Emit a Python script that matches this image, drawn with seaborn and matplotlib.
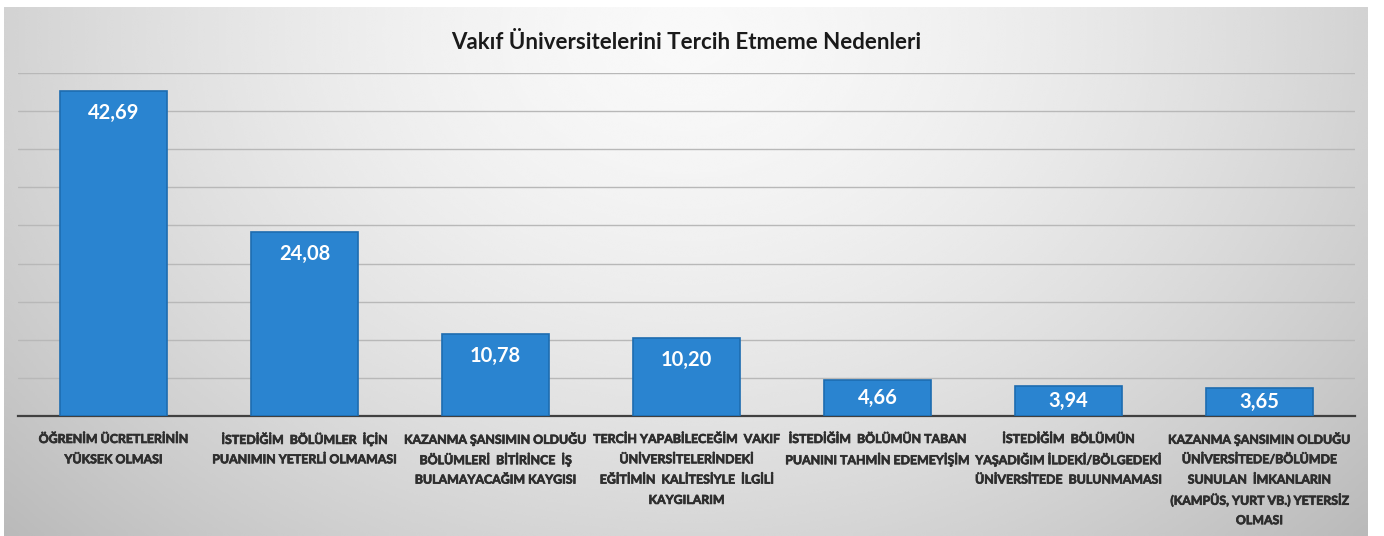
import numpy as np
import pandas as pd
import matplotlib
import matplotlib.pyplot as plt
import matplotlib.patheffects as pe
import seaborn as sns

matplotlib.use('Agg')

title = "Vakıf Üniversitelerini Tercih Etmeme Nedenleri"
categories = [
    "ÖĞRENİM ÜCRETLERİNİN\nYÜKSEK OLMASI",
    "İSTEDİĞİM  BÖLÜMLER  İÇİN\nPUANIMIN YETERLİ OLMAMASI",
    "KAZANMA ŞANSIMIN OLDUĞU\nBÖLÜMLERİ  BİTİRİNCE  İŞ\nBULAMAYACAĞIM KAYGISI",
    "TERCİH YAPABİLECEĞİM  VAKIF\nÜNİVERSİTELERİNDEKİ\nEĞİTİMİN  KALİTESİYLE  İLGİLİ\nKAYGILARIM",
    "İSTEDİĞİM  BÖLÜMÜN TABAN\nPUANINI TAHMİN EDEMEYİŞİM",
    "İSTEDİĞİM  BÖLÜMÜN\nYAŞADIĞIM İLDEKİ/BÖLGEDEKİ\nÜNİVERSİTEDE  BULUNMAMASI",
    "KAZANMA ŞANSIMIN OLDUĞU\nÜNİVERSİTEDE/BÖLÜMDE\nSUNULAN  İMKANLARIN\n(KAMPÜS, YURT VB.) YETERSİZ\nOLMASI",
]
values = [42.69, 24.08, 10.78, 10.20, 4.66, 3.94, 3.65]
value_labels = ["42,69", "24,08", "10,78", "10,20", "4,66", "3,94", "3,65"]

sns.set_style("white")
plt.rcParams['font.family'] = ['Lato', 'DejaVu Sans']

df = pd.DataFrame({"neden": categories, "oran": values})

W, H = 1384, 536
fig = plt.figure(figsize=(W / 100, H / 100), dpi=100)
fig.patch.set_facecolor("white")

# gradient background panel
bg = fig.add_axes([4 / W, 0, (1368 - 4) / W, (H - 7) / H])
yy, xx = np.mgrid[0:1:300j, 0:1:600j]
dist = np.sqrt(((xx - 0.5) / 0.62) ** 2 + ((yy - 0.05) / 1.25) ** 2)
shade = 0.975 - 0.21 * np.clip(dist, 0, 1.2) ** 1.6
bg.imshow(shade, cmap="gray", vmin=0, vmax=1, aspect="auto",
          extent=[0, 1, 1, 0], interpolation="bicubic")
bg.set_axis_off()

ax = fig.add_axes([18 / W, (H - 416) / H, (1355 - 18) / W, (416 - 73) / H])
ax.set_facecolor("none")
sns.barplot(data=df, x="neden", y="oran", color="#2a84d0", width=0.56,
            edgecolor="#1d6cb0", linewidth=1.2, saturation=1, ax=ax, zorder=3)
ax.set_ylim(0, 45)
ax.set_xlim(-0.5, len(categories) - 0.5)
ax.set_yticks(np.arange(5, 46, 5))
ax.yaxis.grid(True, color="#b8b8b8", linewidth=1.0, zorder=0)
ax.set_axisbelow(True)
ax.tick_params(axis="y", left=False, labelleft=False)
ax.tick_params(axis="x", bottom=False, labelbottom=False)
for s in ["top", "right", "left"]:
    ax.spines[s].set_visible(False)
ax.spines["bottom"].set_color("#404040")
ax.spines["bottom"].set_linewidth(1.6)
ax.set_xlabel("")
ax.set_ylabel("")

# category labels, one line at a time for an even line pitch
lab_color = "#2e2e2e"
for i, cat in enumerate(categories):
    for k, line in enumerate(cat.split("\n")):
        ax.annotate(line, xy=(i, 0), xytext=(0, -(23.5 + 20.3 * k)),
                    textcoords="offset pixels", ha="center", va="center",
                    fontsize=8.9, fontweight="bold", color=lab_color,
                    annotation_clip=False,
                    path_effects=[pe.withStroke(linewidth=0.5, foreground=lab_color)])

# value labels inside bar ends
px_per_unit = ax.transData.transform((0, 1))[1] - ax.transData.transform((0, 0))[1]
for i, (v, t) in enumerate(zip(values, value_labels)):
    off = min(22, v * px_per_unit / 2)
    ax.annotate(t, xy=(i, v), xytext=(0, -off), textcoords="offset pixels",
                ha="center", va="center", color="white", fontsize=14.5,
                fontweight="bold", zorder=5)

fig.text(686 / W, 1 - 42 / H, title, ha="center", va="center",
         fontsize=16, color="#1a1a1a", fontweight="bold")

fig.savefig("out.png", dpi=100, facecolor="white")
